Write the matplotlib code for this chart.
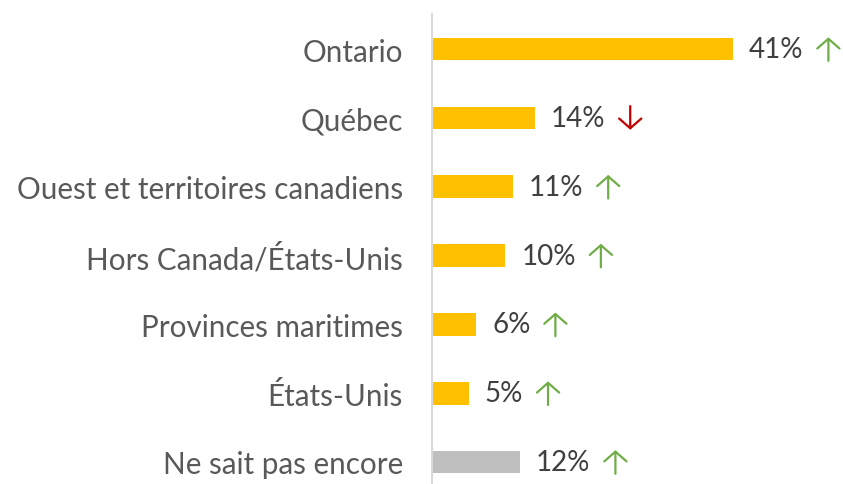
import matplotlib.pyplot as plt
from matplotlib.text import OffsetFrom

# donnees
categories = ["Ontario", "Québec", "Ouest et territoires canadiens",
              "Hors Canada/États-Unis", "Provinces maritimes", "États-Unis",
              "Ne sait pas encore"]
valeurs = [41, 14, 11, 10, 6, 5, 12]
tendances = ["up", "down", "up", "up", "up", "up", "up"]
couleurs = ["#FFC000"] * 6 + ["#BFBFBF"]

plt.rcParams['font.family'] = ['Lato', 'DejaVu Sans']

fig = plt.figure(figsize=(8.43, 4.85), dpi=100)
ax = fig.add_axes([432 / 843, 0, 1 - 432 / 843, 470 / 485])

y = list(range(len(categories)))
ax.barh(y, valeurs, height=0.33, color=couleurs)
ax.set_xlim(0, 56)
ax.set_ylim(6.32, -0.51)

ax.set_yticks(y)
ax.set_yticklabels(categories, fontsize=21.3, color="#595959")
ax.tick_params(axis="y", length=0, pad=21)
ax.set_xticks([])
for s in ["top", "right", "bottom"]:
    ax.spines[s].set_visible(False)
ax.spines["left"].set_color("#D9D9D9")
ax.spines["left"].set_linewidth(1.5)

for i, (v, t) in enumerate(zip(valeurs, tendances)):
    txt = ax.annotate(f"{v}%", xy=(v, i), xytext=(11.5, 0), textcoords="offset points",
                      va="center", ha="left", fontsize=20, color="#404040")
    ref = OffsetFrom(txt, (1, 0.5))
    if t == "up":
        haut, bas, c = 8.5, -8.5, "#70AD47"
    else:
        haut, bas, c = -8.5, 8.5, "#C00000"
    ax.annotate("", xy=(18, haut), xycoords=ref, xytext=(18, bas), textcoords=ref,
                arrowprops=dict(arrowstyle="->,head_length=0.35,head_width=0.4",
                                color=c, lw=1.6, shrinkA=0, shrinkB=0,
                                mutation_scale=20))

fig.savefig("out.png", dpi=100)
